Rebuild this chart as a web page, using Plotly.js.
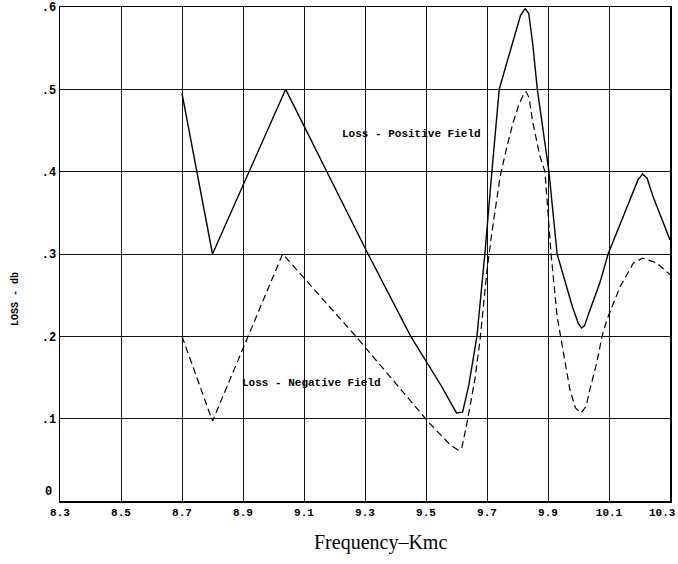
<!DOCTYPE html>
<html>
<head>
<meta charset="utf-8">
<script src="https://cdn.plot.ly/plotly-3.0.1.min.js"></script>
<style>html,body{margin:0;padding:0;background:#fff;}#chart{width:678px;height:564px;}</style>
</head>
<body>
<div id="chart"></div>
<script>
// Frequency (Kmc) and loss (db)
const posFreq = [8.70, 8.80, 9.04, 9.31, 9.45, 9.55, 9.58, 9.60, 9.62, 9.64, 9.667, 9.693, 9.716, 9.74, 9.757, 9.775, 9.79, 9.81, 9.825, 9.837, 9.85, 9.865, 9.903, 9.93, 9.98, 10.00, 10.01, 10.02, 10.03, 10.07, 10.097, 10.159, 10.195, 10.21, 10.225, 10.244, 10.30];
const posLoss = [0.495, 0.30, 0.50, 0.30, 0.20, 0.14, 0.12, 0.107, 0.108, 0.14, 0.20, 0.30, 0.40, 0.50, 0.522, 0.545, 0.566, 0.59, 0.598, 0.592, 0.555, 0.50, 0.40, 0.30, 0.236, 0.215, 0.21, 0.213, 0.224, 0.265, 0.30, 0.357, 0.39, 0.397, 0.392, 0.37, 0.317];

const negFreq = [8.70, 8.80, 9.03, 9.27, 9.51, 9.58, 9.605, 9.617, 9.633, 9.66, 9.677, 9.70, 9.716, 9.743, 9.765, 9.785, 9.805, 9.82, 9.828, 9.838, 9.85, 9.874, 9.89, 9.91, 9.93, 9.972, 9.99, 10.008, 10.025, 10.037, 10.06, 10.077, 10.093, 10.136, 10.18, 10.21, 10.257, 10.30];
const negLoss = [0.20, 0.097, 0.30, 0.20, 0.095, 0.068, 0.062, 0.064, 0.092, 0.147, 0.195, 0.28, 0.326, 0.394, 0.43, 0.459, 0.482, 0.494, 0.497, 0.49, 0.46, 0.418, 0.40, 0.30, 0.224, 0.135, 0.113, 0.107, 0.115, 0.135, 0.168, 0.20, 0.22, 0.26, 0.289, 0.295, 0.289, 0.275];

const xTickVals = [8.3, 8.5, 8.7, 8.9, 9.1, 9.3, 9.5, 9.7, 9.9, 10.1, 10.3];
const xTickText = ["8.3", "8.5", "8.7", "8.9", "9.1", "9.3", "9.5", "9.7", "9.9", "10.1", ""];
const xLastLabel = "10.3";
const yTickVals = [0, 0.1, 0.2, 0.3, 0.4, 0.5, 0.6];
const yTickText = ["", ".1", ".2", ".3", ".4", ".5", ".6"];
const yZeroLabel = "0";

const posLabel = "Loss - Positive Field";
const negLabel = "Loss - Negative Field";
const xTitle = "Frequency\u2013Kmc";
const yTitle = "LOSS - db";

const mono = "Liberation Mono, DejaVu Sans Mono, monospace";
const tickFontX = {family: mono, size: 11, color: "#000", weight: "bold"};
const tickFontY = {family: mono, size: 12, color: "#000", weight: "bold"};

const traces = [
  {x: posFreq, y: posLoss, mode: "lines", line: {color: "#000", width: 1.4}, hoverinfo: "skip"},
  {x: negFreq, y: negLoss, mode: "lines", line: {color: "#000", width: 1.2, dash: "7px,4px"}, hoverinfo: "skip"}
];

const layout = {
  width: 678, height: 564,
  margin: {l: 60, r: 8, t: 7, b: 63},
  paper_bgcolor: "#fff", plot_bgcolor: "#fff",
  showlegend: false,
  xaxis: {
    range: [8.3, 10.3], tickvals: xTickVals, ticktext: xTickText,
    showgrid: true, gridcolor: "#111", gridwidth: 1,
    showline: true, mirror: true, linecolor: "#000", linewidth: 1.5,
    zeroline: false, ticks: "",
    tickfont: tickFontX
  },
  yaxis: {
    range: [0, 0.6], tickvals: yTickVals, ticktext: yTickText,
    showgrid: true, gridcolor: "#111", gridwidth: 1,
    showline: true, mirror: true, linecolor: "#000", linewidth: 1.5,
    zeroline: false, ticks: "",
    tickfont: tickFontY
  },
  shapes: [
    {type: "line", layer: "below", xref: "x", yref: "y", x0: 9.3, x1: 9.3, y0: 0.452, y1: 0.497, line: {color: "#fff", width: 3}},
    {type: "line", layer: "below", xref: "x", yref: "y", x0: 9.5, x1: 9.5, y0: 0.403, y1: 0.497, line: {color: "#fff", width: 3}}
  ],
  annotations: [
    {text: posLabel, xref: "x", yref: "y", x: 9.454, y: 0.446, showarrow: false,
     font: {family: mono, size: 11, color: "#000", weight: "bold"}},
    {text: negLabel, xref: "x", yref: "y", x: 9.125, y: 0.143, showarrow: false,
     font: {family: mono, size: 11, color: "#000", weight: "bold"}},
    {text: xLastLabel, xref: "paper", yref: "paper", x: 1.013, y: -0.0245, xanchor: "right", yanchor: "middle", showarrow: false,
     font: tickFontX},
    {text: yZeroLabel, xref: "paper", yref: "y", x: -0.01, y: 0, yshift: 9, xanchor: "right", yanchor: "middle", showarrow: false,
     font: tickFontY},
    {text: xTitle, xref: "paper", yref: "paper", x: 0.525, y: -0.083, xanchor: "center", yanchor: "middle", showarrow: false,
     font: {family: "Liberation Serif, DejaVu Serif, serif", size: 20, color: "#000"}},
    {text: yTitle, xref: "paper", yref: "paper", x: -0.073, y: 0.41, xanchor: "center", yanchor: "middle", showarrow: false, textangle: -90,
     font: {family: mono, size: 10, color: "#000", weight: "bold"}}
  ]
};

Plotly.newPlot("chart", traces, layout, {displayModeBar: false, staticPlot: true});
</script>
</body>
</html>
